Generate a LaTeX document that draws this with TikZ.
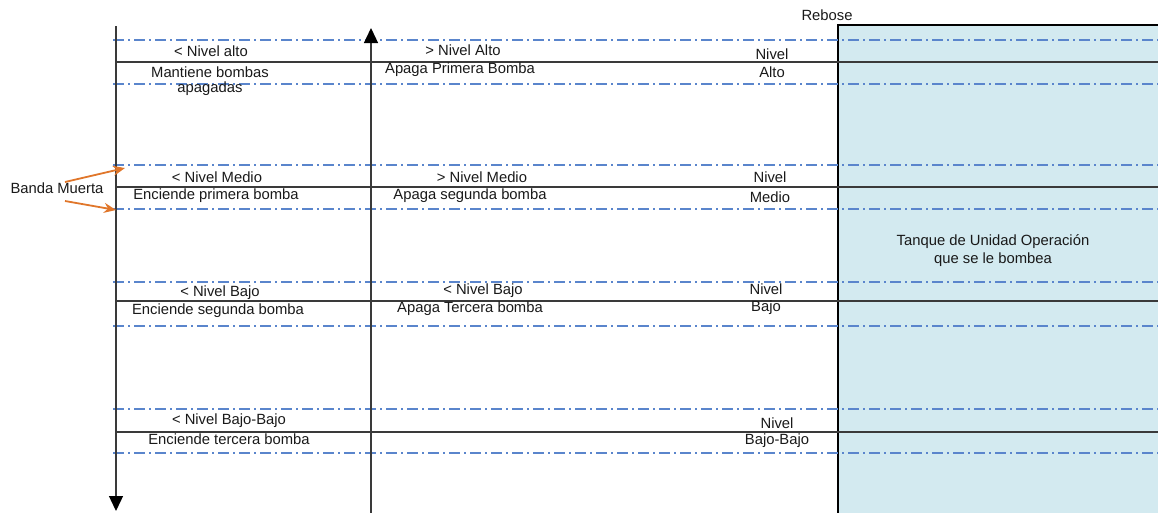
\documentclass[tikz,border=0pt]{standalone}
\usepackage{fontspec}
\setmainfont{Liberation Sans}
\usetikzlibrary{arrows.meta}
\definecolor{tankfill}{HTML}{D3EAF0}
\definecolor{dashblue}{HTML}{5A85CC}
\definecolor{solidgray}{HTML}{3A3A3A}
\definecolor{orangearr}{HTML}{E0762A}
\tikzset{
  lbl/.style={font=\fontsize{14.8}{17}\selectfont, text=black!90, inner sep=0pt, anchor=center},
  solidline/.style={draw=solidgray, line width=1.3pt},
  dashline/.style={draw=dashblue, line width=1.2pt, dash pattern=on 11pt off 4pt on 2pt off 4pt},
  axis/.style={draw=solidgray, line width=1.3pt, -{Triangle[length=15pt,width=14pt,fill=black,color=black]}},
  orangearrow/.style={draw=orangearr, line width=1.8pt, -{Stealth[length=12pt,width=10pt]}},
}
\begin{document}
\begin{tikzpicture}[x=1pt,y=-1pt]
\useasboundingbox (0,0) rectangle (1158,512);
% tank
\fill[tankfill] (838,25) rectangle (1170,520);
\draw[black, line width=1.4pt] (838,520) -- (838,25) -- (1170,25);
\node[lbl] (rebose) at (827,15) {Rebose};
% levels
\foreach \t/\s/\b in {40/62/84, 165/187/209, 282/301/326, 409/432/453}{
  \draw[dashline] (113,\t) -- (1160,\t);
  \draw[solidline] (116,\s) -- (1160,\s);
  \draw[dashline] (113,\b) -- (1160,\b);
}
% axes
\coordinate (ltop) at (116,26);
\coordinate (lbot) at (116,511);
\coordinate (mbot) at (371,514);
\coordinate (mtop) at (371,28);
\draw[axis] (ltop) -- (lbot);
\draw[axis] (mbot) -- (mtop);
% texts left column
\node[lbl] (a1) at (211,51) {< Nivel alto};
\node[lbl] (a2) at (210,72) {Mantiene bombas};
\node[lbl] (a3) at (210,89) {apagadas};
\node[lbl] (m1) at (217,177) {< Nivel Medio};
\node[lbl] (m2) at (216,196) {Enciende primera bomba};
\node[lbl] (b1) at (220,293) {< Nivel Bajo};
\node[lbl] (b2) at (218,311) {Enciende segunda bomba};
\node[lbl] (bb1) at (229,421) {< Nivel Bajo-Bajo};
\node[lbl] (bb2) at (229,439) {Enciende tercera bomba};
% middle column
\node[lbl] (c1) at (463,50) {> Nivel Alto};
\node[lbl] (c2) at (460,70) {Apaga Primera Bomba};
\node[lbl] (c3) at (482,177) {> Nivel Medio};
\node[lbl] (c4) at (470,196) {Apaga segunda bomba};
\node[lbl] (c5) at (483,291) {< Nivel Bajo};
\node[lbl] (c6) at (470,309) {Apaga Tercera bomba};
% right labels
\node[lbl] (n1) at (772,54) {Nivel};
\node[lbl] (n2) at (772,72) {Alto};
\node[lbl] (n3) at (770,177) {Nivel};
\node[lbl] (n4) at (770,197) {Medio};
\node[lbl] (n5) at (766,289) {Nivel};
\node[lbl] (n6) at (766,308) {Bajo};
\node[lbl] (n7) at (777,423) {Nivel};
\node[lbl] (n8) at (777,441) {Bajo-Bajo};
% tank label
\node[lbl] (tk1) at (993,242) {Tanque de Unidad Operación};
\node[lbl] (tk2) at (993,260) {que se le bombea};
% banda muerta
\node[lbl] (banda) at (57,188) {Banda Muerta};
\coordinate (bs1) at (65,182);
\coordinate (bs2) at (65,201);
\coordinate (bu) at (125,168);
\coordinate (bl) at (116,210);
\draw[orangearrow] (bs1) -- (bu);
\draw[orangearrow] (bs2) -- (bl);
\end{tikzpicture}
\end{document}
